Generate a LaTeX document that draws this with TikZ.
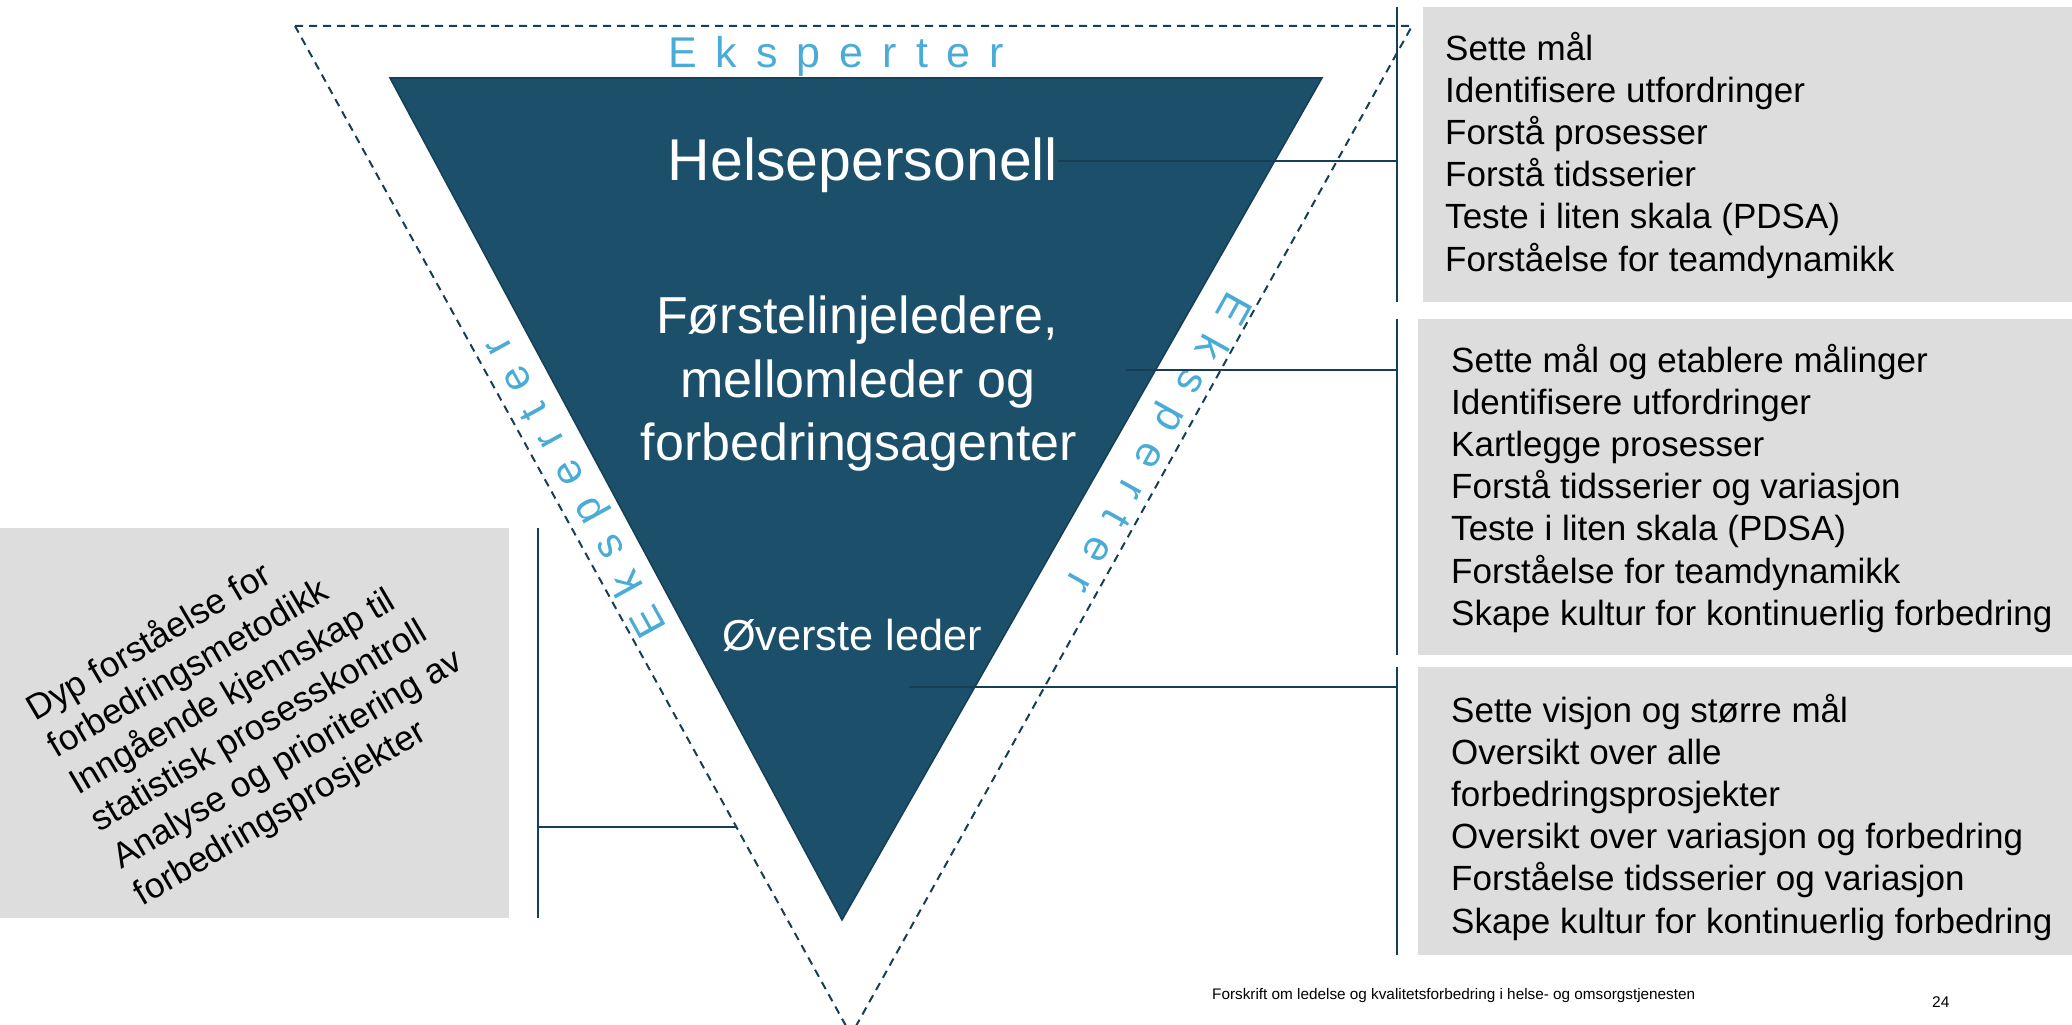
\documentclass[tikz,border=0pt]{standalone}
\usepackage{fontspec}
\setmainfont{Liberation Sans}
\definecolor{trifill}{HTML}{1B4F6A}
\definecolor{triedge}{HTML}{163F55}
\definecolor{linecol}{HTML}{173E55}
\definecolor{boxgrey}{HTML}{DDDDDD}
\definecolor{eblue}{HTML}{4AACD6}
\newcommand\ekspword{E\kern19pt k\kern19pt s\kern19pt p\kern19pt e\kern19pt r\kern19pt t\kern19pt e\kern19pt r}
\tikzset{
  conn/.style={draw=linecol, line width=2.6pt},
  dashline/.style={draw=linecol, line width=2pt, dash pattern=on 8pt off 6pt},
  gbox/.style={fill=boxgrey, draw=none},
  itemtxt/.style={anchor=base west, inner sep=0pt, font=\fontsize{35}{42}\selectfont},
  lefttxt/.style={anchor=base west, inner sep=0pt, rotate=30.5, font=\fontsize{35.3}{42}\selectfont},
  tritxt/.style={anchor=base, inner sep=0pt, text=white},
  ekstxt/.style={inner sep=0pt, text=eblue, font=\fontsize{43}{50}\selectfont},
  foottxt/.style={anchor=base west, inner sep=0pt, font=\fontsize{15.3}{18}\selectfont},
}
\begin{document}
\begin{tikzpicture}[x=1pt,y=-1pt]
\useasboundingbox (0,0) rectangle (2072,1025);
\clip (0,0) rectangle (2072,1025);
% grey boxes
\fill[gbox] (1423,7) rectangle (2072,302);
\fill[gbox] (1418,319) rectangle (2072,655);
\fill[gbox] (1418,667) rectangle (2072,955);
\fill[gbox] (0,528) rectangle (509,918);
% outer dashed triangle
\draw[dashline] (295,26) -- (1412,26) -- (851,1035) -- cycle;
% inner triangle
\draw[fill=trifill, draw=triedge, line width=1.5pt] (390,78) -- (1322,78) -- (842,920) -- cycle;
% connector coordinates
\coordinate (v1top) at (1397,7);
\coordinate (v1bot) at (1397,302);
\coordinate (v2top) at (1397,319);
\coordinate (v2bot) at (1397,655);
\coordinate (v3top) at (1397,667);
\coordinate (v3bot) at (1397,955);
\coordinate (c1) at (1397,161);
\coordinate (c2) at (1397,370);
\coordinate (c2s) at (1126,370);
\coordinate (c3) at (1397,687);
\coordinate (c3s) at (909,687);
\coordinate (vltop) at (538,528);
\coordinate (vlbot) at (538,918);
\coordinate (cl) at (538,827);
\coordinate (cls) at (736,827);
% texts in triangle
\node[tritxt, font=\fontsize{59}{70}\selectfont] (help) at (863,180) {Helsepersonell};
\node[tritxt, font=\fontsize{52}{63}\selectfont] (m1) at (857,333) {Førstelinjeledere,};
\node[tritxt, font=\fontsize{52}{63}\selectfont] (m2) at (858,397) {mellomleder og};
\node[tritxt, font=\fontsize{52}{63}\selectfont] (m3) at (859,460) {forbedringsagenter};
\node[tritxt, font=\fontsize{43.3}{52}\selectfont] (top) at (852,650) {Øverste leder};
% Eksperter labels
\node[ekstxt, anchor=base west] (ekstop) at (668,67) {\ekspword};
\node[ekstxt, rotate=118.9] (eksleft) at (577,486) {\ekspword};
\node[ekstxt, rotate=-119.1] (eksright) at (1156,442) {\ekspword};
% connectors
\draw[conn] (v1top) -- (v1bot);
\draw[conn] (v2top) -- (v2bot);
\draw[conn] (v3top) -- (v3bot);
\draw[conn] (vltop) -- (vlbot);
\draw[conn] (help.east |- c1) -- (c1);
\draw[conn] (c2s) -- (c2);
\draw[conn] (c3s) -- (c3);
\draw[conn] (cl) -- (cls);
% right box texts
\foreach \t [count=\i from 0] in {{Sette mål},{Identifisere utfordringer},{Forstå prosesser},{Forstå tidsserier},{Teste i liten skala (PDSA)},{Forståelse for teamdynamikk}}
  \node[itemtxt] (a\i) at (1445,{60+42.2*\i}) {\t};
\foreach \t [count=\i from 0] in {{Sette mål og etablere målinger},{Identifisere utfordringer},{Kartlegge prosesser},{Forstå tidsserier og variasjon},{Teste i liten skala (PDSA)},{Forståelse for teamdynamikk},{Skape kultur for kontinuerlig forbedring}}
  \node[itemtxt] (b\i) at (1451,{372+42.2*\i}) {\t};
\foreach \t [count=\i from 0] in {{Sette visjon og større mål},{Oversikt over alle},{forbedringsprosjekter},{Oversikt over variasjon og forbedring},{Forståelse tidsserier og variasjon},{Skape kultur for kontinuerlig forbedring}}
  \node[itemtxt] (c\i) at (1451,{722+42.2*\i}) {\t};
% left box texts
\foreach \t [count=\i from 0] in {{Dyp forståelse for},{forbedringsmetodikk},{Inngående kjennskap til},{statistisk prosesskontroll},{Analyse og prioritering av},{forbedringsprosjekter}}
  \node[lefttxt] (l\i) at ({35+21.5*\i},{722+36.9*\i}) {\t};
% footer
\node[foottxt] (foot) at (1212,999) {Forskrift om ledelse og kvalitetsforbedring i helse- og omsorgstjenesten};
\node[foottxt, font=\fontsize{15.5}{18}\selectfont] (pnum) at (1932,1007) {24};
\end{tikzpicture}
\end{document}
